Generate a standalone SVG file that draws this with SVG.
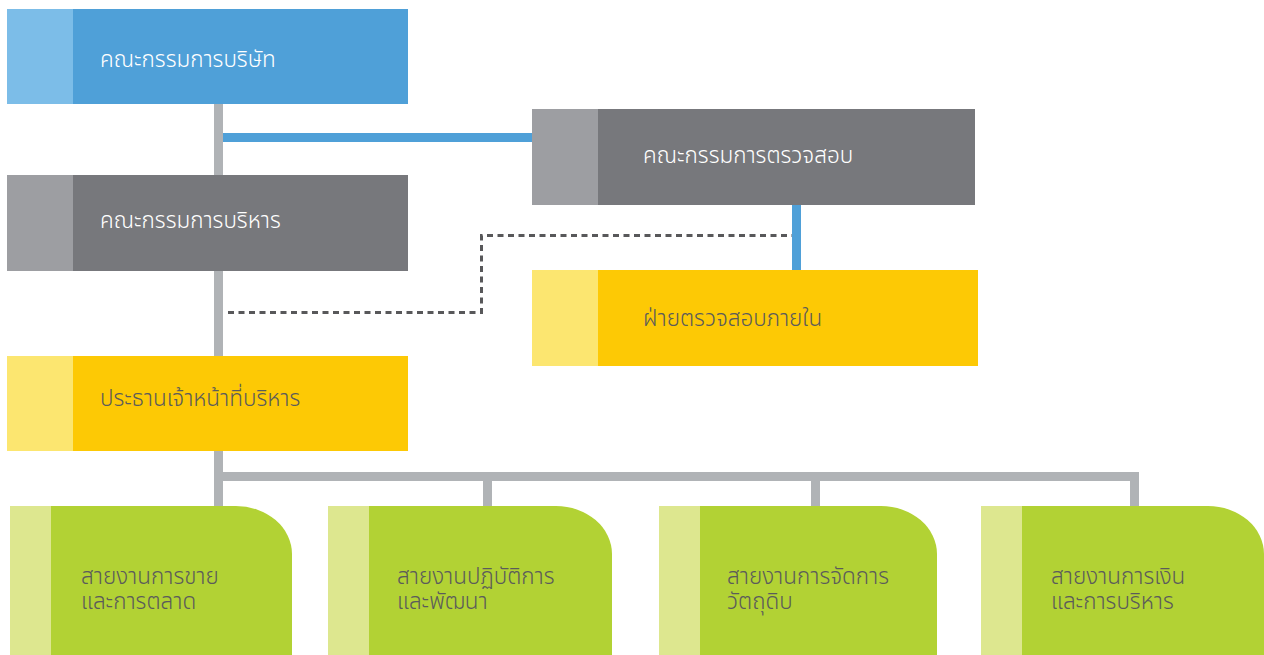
<svg xmlns="http://www.w3.org/2000/svg" width="1264" height="655" viewBox="0 0 1264 655">
<style>
text{font-family:"Noto Sans","Noto Sans Thai","DejaVu Sans",sans-serif;font-size:22.5px;font-weight:300}
.w{fill:#ffffff}
.d{fill:#5b5b5b}
.blue{fill:#4fa0d8}.blueS{fill:#7cbde8}
.gray{fill:#77787c}.grayS{fill:#9d9ea2}
.yel{fill:#fdc905}.yelS{fill:#fce670}
.grn{fill:#b2d234}.grnS{fill:#dde78f}
.gl{fill:#b0b3b6}
.bl{fill:#4fa0d8}
</style>
<g id="connectors">
<rect class="gl" x="214" y="104" width="9" height="402"/>
<rect class="bl" x="223" y="133" width="309" height="9"/>
<rect class="bl" x="792" y="205" width="9" height="65"/>
<rect class="gl" x="214" y="472" width="925" height="9"/>
<rect class="gl" x="483" y="472" width="9" height="34"/>
<rect class="gl" x="811" y="472" width="9" height="34"/>
<rect class="gl" x="1130" y="472" width="9" height="34"/>
<path d="M228 312.5H481.5V235.5H792" fill="none" stroke="#58585a" stroke-width="3" stroke-dasharray="6 4.5"/>
</g>
<g id="board">
<rect class="blue" x="7" y="9" width="401" height="95"/>
<rect class="blueS" x="7" y="9" width="66" height="95"/>
<text class="w" x="100" y="67">คณะกรรมการบริษัท</text>
</g>
<g id="executive-committee">
<rect class="gray" x="7" y="175" width="401" height="96"/>
<rect class="grayS" x="7" y="175" width="66" height="96"/>
<text class="w" x="100" y="228">คณะกรรมการบริหาร</text>
</g>
<g id="audit-committee">
<rect class="gray" x="532" y="109" width="443" height="96"/>
<rect class="grayS" x="532" y="109" width="66" height="96"/>
<text class="w" x="643" y="163">คณะกรรมการตรวจสอบ</text>
</g>
<g id="internal-audit">
<rect class="yel" x="532" y="270" width="446" height="96"/>
<rect class="yelS" x="532" y="270" width="66" height="96"/>
<text class="d" x="643" y="326">ฝ่ายตรวจสอบภายใน</text>
</g>
<g id="ceo">
<rect class="yel" x="7" y="356" width="401" height="95"/>
<rect class="yelS" x="7" y="356" width="66" height="95"/>
<text class="d" x="100" y="406">ประธานเจ้าหน้าที่บริหาร</text>
</g>
<g id="sales">
<path class="grn" d="M10 506H236A56 48 0 0 1 292 554V655H10Z"/>
<rect class="grnS" x="10" y="506" width="41" height="149"/>
<text class="d" x="81" y="584">สายงานการขาย<tspan x="81" dy="25">และการตลาด</tspan></text>
</g>
<g id="operations">
<path class="grn" d="M328 506H556A56 48 0 0 1 612 554V655H328Z"/>
<rect class="grnS" x="328" y="506" width="41" height="149"/>
<text class="d" x="397" y="584">สายงานปฏิบัติการ<tspan x="397" dy="25">และพัฒนา</tspan></text>
</g>
<g id="materials">
<path class="grn" d="M659 506H881A56 48 0 0 1 937 554V655H659Z"/>
<rect class="grnS" x="659" y="506" width="41" height="149"/>
<text class="d" x="727" y="584">สายงานการจัดการ<tspan x="727" dy="25">วัตถุดิบ</tspan></text>
</g>
<g id="finance">
<path class="grn" d="M981 506H1208A56 48 0 0 1 1264 554V655H981Z"/>
<rect class="grnS" x="981" y="506" width="41" height="149"/>
<text class="d" x="1051" y="584">สายงานการเงิน<tspan x="1051" dy="25">และการบริหาร</tspan></text>
</g>
</svg>
